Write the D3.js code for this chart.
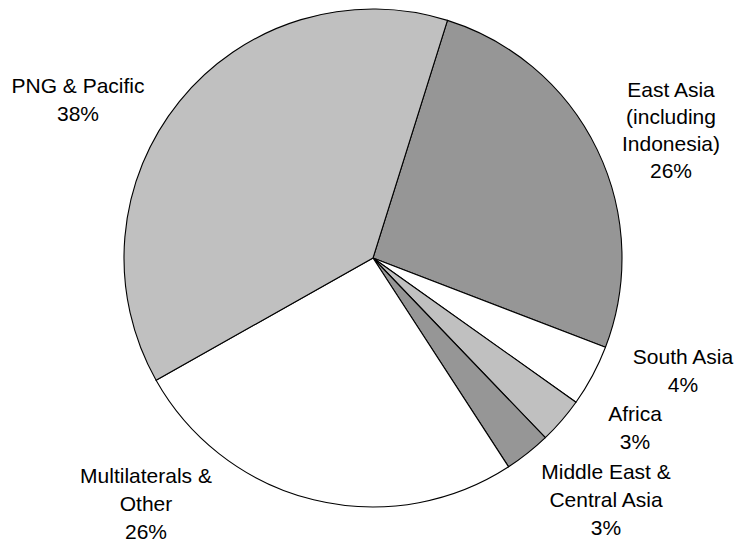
<!DOCTYPE html>
<html>
<head>
<meta charset="utf-8">
<script src="https://cdn.jsdelivr.net/npm/d3@7/dist/d3.min.js"></script>
<style>
  html, body { margin: 0; padding: 0; background: #fff; }
  svg { display: block; }
  text { font-family: "Liberation Sans", Arial, sans-serif; font-size: 21px; fill: #000; }
</style>
</head>
<body>
<svg id="chart" width="736" height="542"></svg>
<script>
// Regions, in clockwise drawing order
const categories = ["East Asia (including Indonesia)", "South Asia", "Africa",
  "Middle East & Central Asia", "Multilaterals & Other", "PNG & Pacific"];
const shares = [26, 4, 3, 3, 26, 38];
const labelLines = [
  ["East Asia", "(including", "Indonesia)"],
  ["South Asia"],
  ["Africa"],
  ["Middle East &", "Central Asia"],
  ["Multilaterals &", "Other"],
  ["PNG & Pacific"]
];
const fills = ["#969696", "#ffffff", "#c0c0c0", "#969696", "#ffffff", "#c0c0c0"];

// Label anchors (centre x, first baseline y)
const labelAnchors = [[671, 97], [683, 364], [635, 421], [606, 479], [146, 483], [78, 93]];

const cx = 373, cy = 258, r = 249;
const startDeg = 17.4;
const lineH = 28;

const svg = d3.select("#chart");
const data = categories.map((c, i) => ({ name: c, value: shares[i], i }));

const pie = d3.pie()
  .value(d => d.value)
  .sort(null)
  .startAngle(startDeg * Math.PI / 180)
  .endAngle((startDeg + 360) * Math.PI / 180);

const arc = d3.arc().innerRadius(0).outerRadius(r);

const g = svg.append("g").attr("transform", `translate(${cx},${cy})`);
g.selectAll("path")
  .data(pie(data))
  .join("path")
  .attr("d", arc)
  .attr("fill", d => fills[d.data.i])
  .attr("stroke", "#000")
  .attr("stroke-width", 1.1)
  .attr("stroke-linejoin", "round");

// Labels: name lines plus percentage
const labels = svg.append("g");
data.forEach((d, i) => {
  const [x, y] = labelAnchors[i];
  const lines = labelLines[i].concat([d3.format("d")(d.value) + "%"]);
  const t = labels.append("text").attr("text-anchor", "middle");
  lines.forEach((ln, k) => {
    t.append("tspan").attr("x", x).attr("y", y + k * (i === 0 ? 27 : lineH)).text(ln);
  });
});
</script>
</body>
</html>
